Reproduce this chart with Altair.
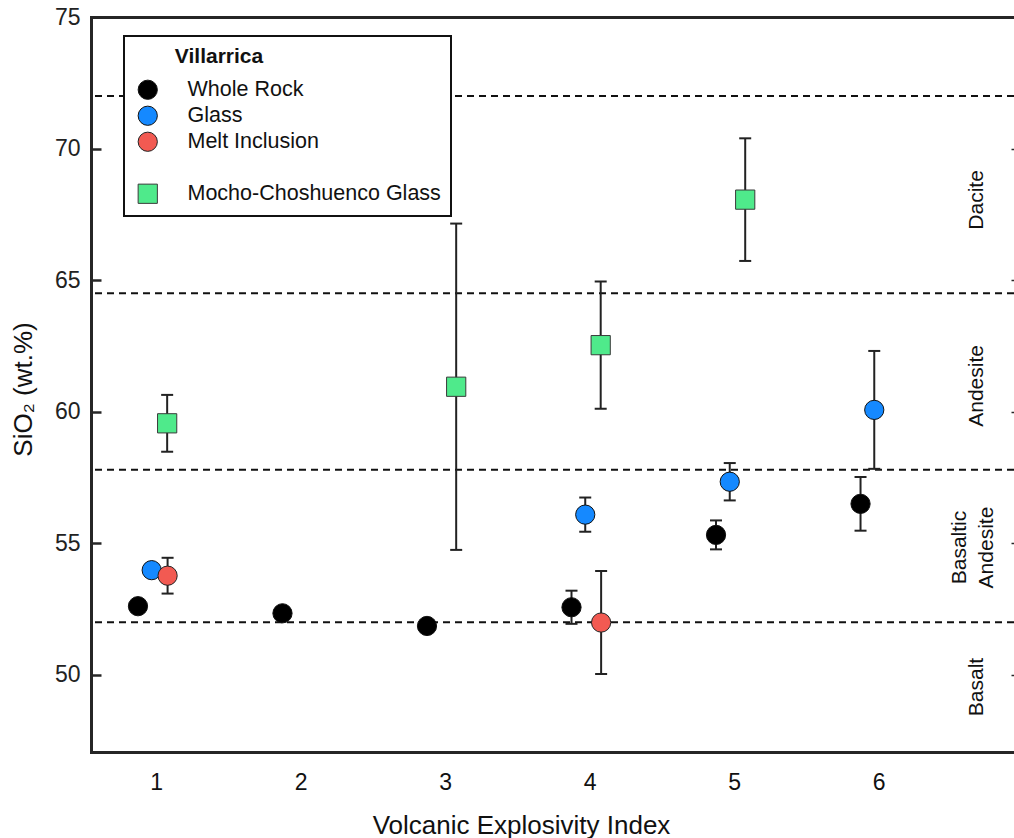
import altair as alt
import pandas as pd

FONT = "Liberation Sans"

# ---- data ----
vei_ticks = [1, 2, 3, 4, 5, 6]
sio2_ticks = [50, 55, 60, 65, 70, 75]

wr_vei = [1, 2, 3, 4, 5, 6]
wr_sio2 = [52.61, 52.34, 51.86, 52.57, 55.32, 56.50]
wr_err = [0, 0, 0, 0.63, 0.55, 1.02]

gl_vei = [1, 4, 5, 6]
gl_sio2 = [53.98, 56.09, 57.34, 60.07]
gl_err = [0, 0.65, 0.71, 2.24]

mi_vei = [1, 4]
mi_sio2 = [53.77, 51.99]
mi_err = [0.68, 1.96]

mc_vei = [1, 3, 4, 5]
mc_sio2 = [59.56, 60.95, 62.53, 68.06]
mc_err = [1.08, 6.20, 2.42, 2.33]

series_names = ["Whole Rock", "Glass", "Melt Inclusion", "", "Mocho-Choshuenco Glass"]

boundaries = [52.0, 57.8, 64.5, 72.0]
field_names = ["Basalt", "Basaltic\nAndesite", "Andesite", "Dacite"]
field_label_y = [49.54, 54.84, 60.98, 68.05]
field_label_x = [6.684, 6.561, 6.684, 6.684]

# ---- styling ----
dodge = {"Whole Rock": -0.125, "Glass": -0.03, "Melt Inclusion": 0.08,
         "Mocho-Choshuenco Glass": 0.077}
fill_colors = ["#000000", "#1589FF", "#F25A52", "transparent", "#4FEA8B"]
stroke_colors = ["#111111", "#111111", "#222222", "transparent", "#3a3a3a"]
shapes = ["circle", "circle", "circle", "circle", "square"]
sizes = [370, 370, 370, 330, 290]

rows = []
for name, vs, ys, es in [("Whole Rock", wr_vei, wr_sio2, wr_err),
                         ("Glass", gl_vei, gl_sio2, gl_err),
                         ("Melt Inclusion", mi_vei, mi_sio2, mi_err),
                         ("Mocho-Choshuenco Glass", mc_vei, mc_sio2, mc_err)]:
    for v, y, e in zip(vs, ys, es):
        rows.append({"series": name, "vei": v, "sio2": y, "err": e,
                     "x": v + dodge[name], "lo": y - e, "hi": y + e})
pts = pd.DataFrame(rows)
errs = pts[pts["err"] > 0].copy()

bounds_df = pd.DataFrame({"sio2": boundaries})
lbl_df = pd.DataFrame({"name": field_names, "x": field_label_x, "y": field_label_y})

W, H = 923, 735
x_scale = alt.Scale(domain=[0.55, 6.937], nice=False, zero=False)
y_scale = alt.Scale(domain=[47.07, 75.0], nice=False, zero=False)

AX = "#262626"

rules = alt.Chart(bounds_df).mark_rule(color="#111111", strokeWidth=2, strokeDash=[7, 5]).encode(
    y=alt.Y("sio2:Q", scale=y_scale,
            axis=alt.Axis(orient="left", values=sio2_ticks, format="d", ticks=False,
                          domain=True, domainWidth=3, domainColor=AX, domainCap="square",
                          labelFontSize=23, labelColor="#222222", labelPadding=11,
                          labelFlush=False, grid=False,
                          title="SiO₂ (wt.%)", titleFontSize=26, titleFontWeight="normal",
                          titleColor="#111111", titleX=-68, titleY=372, titleAngle=270,
                          titleAlign="center", titleBaseline="middle"))
)

errbars = alt.Chart(errs).mark_rule(color="#222222", strokeWidth=2).encode(
    x=alt.X("x:Q", scale=x_scale,
            axis=alt.Axis(orient="bottom", values=vei_ticks, format="d", ticks=False,
                          domain=True, domainWidth=3, domainColor=AX, domainCap="square",
                          labelFontSize=23, labelColor="#111111", labelPadding=19,
                          labelFlush=False, grid=False,
                          title="Volcanic Explosivity Index", titleFontSize=26,
                          titleFontWeight="normal", titleColor="#111111",
                          titleX=430, titleY=81, titleAlign="center",
                          titleBaseline="alphabetic")),
    y=alt.Y("lo:Q", scale=y_scale,
            axis=alt.Axis(orient="right", offset=-W, values=sio2_ticks, ticks=True,
                          tickSize=10, tickWidth=2.5, tickColor=AX, domain=False,
                          labels=False, grid=False, title=None)),
    y2="hi:Q",
)

caps = alt.Chart(errs).transform_fold(["lo", "hi"], as_=["end", "val"]).mark_tick(
    orient="horizontal", size=12, thickness=2, color="#222222", opacity=1
).encode(
    x=alt.X("x:Q", scale=x_scale,
            axis=alt.Axis(orient="top", domain=True, domainWidth=3, domainColor=AX,
                          domainCap="square", ticks=False, labels=False, grid=False,
                          title=None)),
    y=alt.Y("val:Q", scale=y_scale,
            axis=alt.Axis(orient="right", offset=-3, values=sio2_ticks, ticks=True,
                          tickSize=3, tickWidth=1.5, tickColor=AX, domain=False,
                          labels=False, grid=False, title=None)),
)

legend = alt.Legend(orient="none", legendX=33, legendY=19, direction="vertical",
                    title="\u200b" + "\u00a0" * 7 + "Villarrica")

points = alt.Chart(pts).mark_point(filled=True, opacity=1, strokeWidth=1).encode(
    x=alt.X("x:Q", scale=x_scale, axis=None),
    y=alt.Y("sio2:Q", scale=y_scale, axis=None),
    fill=alt.Fill("series:N", scale=alt.Scale(domain=series_names, range=fill_colors), legend=legend),
    stroke=alt.Stroke("series:N", scale=alt.Scale(domain=series_names, range=stroke_colors), legend=legend),
    shape=alt.Shape("series:N", scale=alt.Scale(domain=series_names, range=shapes), legend=legend),
    size=alt.Size("series:N", scale=alt.Scale(domain=series_names, range=sizes), legend=legend),
)

labels = alt.Chart(lbl_df).mark_text(
    angle=270, fontSize=21, lineBreak="\n", lineHeight=27, align="center",
    baseline="middle", font=FONT, color="#111111"
).encode(
    x=alt.X("x:Q", scale=x_scale, axis=None),
    y=alt.Y("y:Q", scale=y_scale, axis=None),
    text="name:N",
)

chart = alt.layer(rules, errbars, caps, points, labels).resolve_axis(
    x="independent", y="independent"
).properties(
    width=W, height=H,
    autosize=alt.AutoSizeParams(type="none"),
    padding={"left": 91, "top": 17, "right": 0, "bottom": 86},
).configure(font=FONT).configure_view(stroke="transparent").configure_legend(
    labelFont=FONT, labelFontSize=21.5, labelColor="#111111", labelLimit=400,
    titleFont=FONT, titleFontSize=21, titleFontWeight="bold", titleColor="#111111",
    padding=10, rowPadding=2.0, labelOffset=29, symbolOffset=3, titlePadding=12,
    fillColor="white", strokeColor="#111111", strokeWidth=2,
    symbolStrokeWidth=1, symbolOpacity=1,
)

chart.save("out.html", embed_options={"renderer": "svg", "actions": False})
